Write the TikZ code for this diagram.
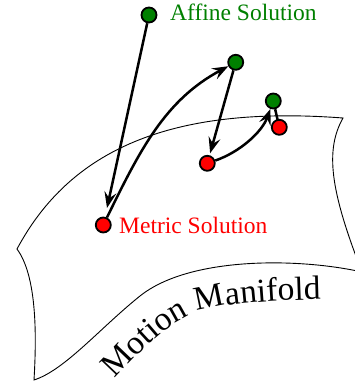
\documentclass[tikz,border=0pt]{standalone}
\usepackage{fontspec}
\setmainfont{Liberation Serif}
\usetikzlibrary{arrows.meta,decorations.text}
\definecolor{dotgreen}{RGB}{0,128,0}
\definecolor{dotred}{RGB}{255,0,0}
\pgfdeclarelayer{surfacelayer}
\pgfdeclarelayer{arrowlayer}
\pgfsetlayers{surfacelayer,arrowlayer,main}
\tikzset{
  affine/.style={circle, draw=black, line width=1.8pt, fill=dotgreen, minimum size=15pt, inner sep=0pt},
  metric/.style={circle, draw=black, line width=1.8pt, fill=dotred, minimum size=15pt, inner sep=0pt},
  flow/.style={line width=2.5pt, -{Stealth[length=16pt,width=12pt,inset=6pt]}},
  rim/.style={line width=0.9pt, line join=miter},
  lbl/.style={font=\fontsize{23.5}{24}\selectfont, anchor=base west, inner sep=0pt},
}
\begin{document}
\begin{tikzpicture}[x=1pt,y=-1pt]
\useasboundingbox (0,0) rectangle (355,385);
% solutions
\node[affine] (G1) at (149,15) {};
\node[affine] (G2) at (235.7,62.3) {};
\node[affine] (G3) at (273.3,101) {};
\node[metric] (R1) at (103.3,225) {};
\node[metric] (R2) at (207.3,163.3) {};
\node[metric] (R3) at (279.3,127.3) {};
% labels
\node[lbl, text=dotgreen] (affinelbl) at (170,21) {Affine Solution};
\node[lbl, text=dotred] (metriclbl) at (119,233) {Metric Solution};
% manifold
\begin{pgfonlayer}{surfacelayer}
\draw[rim] (17,249) .. controls (70,150) and (170,105) .. (343,118)
  .. controls (325,150) and (330,190) .. (362,272)
  .. controls (300,258) and (190,256) .. (140,296)
  .. controls (100,328) and (65,370) .. (34,380)
  .. controls (37,330) and (36,275) .. (17,249) -- cycle;
\path[decorate, decoration={text along path, text align=left,
  text={|\fontsize{33.5}{34}\selectfont|Motion Manifold}}]
  (115,379) .. controls (152,340) and (177,313) .. (217,307)
  .. controls (257,301) and (292,300) .. (337,299);
\end{pgfonlayer}
% arrows
\begin{pgfonlayer}{arrowlayer}
\draw[flow, shorten >=9pt] (G1) -- (R1);
\draw[flow] (R1) .. controls (140,150) and (165,100) .. (G2);
\draw[flow, shorten >=2pt] (G2) -- (R2);
\draw[flow] (R2) .. controls (240,152) and (262,132) .. (G3);
\draw[line width=2.5pt, -{Stealth[length=7pt,width=8pt,inset=2pt]}] (G3) -- (R3.center);
\end{pgfonlayer}
\end{tikzpicture}
\end{document}
